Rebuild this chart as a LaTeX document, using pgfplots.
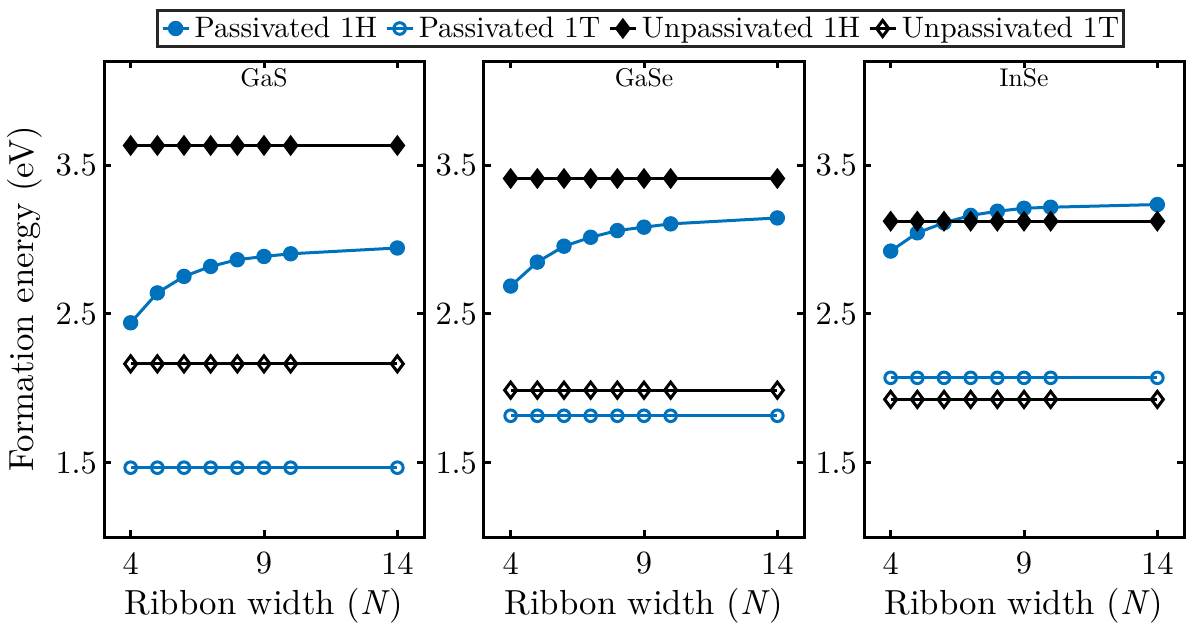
\documentclass[border=0pt]{standalone}
\usepackage{pgfplots}
\pgfplotsset{compat=1.18}
\DeclareFontFamily{TU}{lmrten}{}
\DeclareFontShape{TU}{lmrten}{m}{n}{<-> \UnicodeFontFile{lmroman10-regular}{\UnicodeFontTeXLigatures}}{}
\DeclareFontShape{TU}{lmrten}{m}{it}{<-> \UnicodeFontFile{lmroman10-italic}{\UnicodeFontTeXLigatures}}{}
\renewcommand\rmdefault{lmrten}
\definecolor{mblue}{RGB}{0,114,189}
\definecolor{framegray}{RGB}{38,38,38}
\pgfplotsset{
  panel/.style={
    scale only axis, width=160pt, height=238pt,
    xmin=3, xmax=15, ymin=1, ymax=4.2,
    xtick={4,9,14}, ytick={1.5,2.5,3.5},
    /pgf/number format/assume math mode=true,
    tick align=inside, major tick length=3.5pt,
    axis line style={line width=1.5pt},
    every tick/.style={line width=1.5pt, black},
    tick label style={font=\fontsize{16.2}{19}\selectfont},
    xticklabel style={yshift=-4pt},
    xlabel={Ribbon width (\textit{N})},
    label style={font=\fontsize{17.4}{20}\selectfont},
    title style={font=\fontsize{12.8}{15}\selectfont, at={(0.5,1)}, anchor=base, yshift=-18.8pt},
    clip=false,
    legend image code/.code={\draw[mark repeat=2,mark phase=2] plot coordinates {(0pt,0pt) (6.5pt,0pt) (13pt,0pt)};},
  },
  p1h/.style={color=mblue, line width=1.5pt, mark=*, mark size=3.6pt, mark options={solid, fill=mblue, line width=0.5pt}},
  p1t/.style={color=mblue, line width=1.5pt, mark=o, mark size=2.9pt, mark options={solid, line width=1.5pt}},
  u1h/.style={color=black, line width=1.5pt, mark=diamond*, mark size=4.5pt, mark options={solid, fill=black, line width=1pt}},
  u1t/.style={color=black, line width=1.5pt, mark=diamond, mark size=4pt, mark options={solid, fill=white, line width=1.5pt}},
}
\begin{document}
\begin{tikzpicture}
\useasboundingbox (-52pt,-48pt) rectangle (542.5pt,268.5pt);
% ---------- GaS ----------
\begin{axis}[panel, at={(0pt,0pt)}, anchor=south west, title={GaS},
  ylabel={Formation energy (eV)}]
\addplot[p1h] coordinates {(4,2.44)(5,2.641)(6,2.752)(7,2.819)(8,2.864)(9,2.886)(10,2.904)(14,2.943)};
\addplot[p1t] coordinates {(4,1.466)(5,1.466)(6,1.466)(7,1.466)(8,1.466)(9,1.466)(10,1.466)(14,1.466)};
\addplot[u1h] coordinates {(4,3.632)(5,3.632)(6,3.632)(7,3.632)(8,3.632)(9,3.632)(10,3.632)(14,3.632)};
\addplot[u1t] coordinates {(4,2.164)(5,2.164)(6,2.164)(7,2.164)(8,2.164)(9,2.164)(10,2.164)(14,2.164)};
\end{axis}
% ---------- GaSe ----------
\begin{axis}[panel, at={(190pt,0pt)}, anchor=south west, title={GaSe},
  legend columns=4,
  legend style={at={(0.488,1.0683)}, anchor=center, draw=framegray, line width=1.5pt,
    font=\fontsize{14.8}{17}\selectfont, inner xsep=2pt, inner ysep=3pt,
    nodes={inner sep=0pt},
    /tikz/every odd column/.append style={column sep=2.3pt},
    /tikz/every even column/.append style={column sep=4pt}},
  legend cell align=left]
\addplot[p1h] coordinates {(4,2.687)(5,2.848)(6,2.955)(7,3.015)(8,3.06)(9,3.083)(10,3.105)(14,3.145)};
\addlegendentry{Passivated 1H}
\addplot[p1t] coordinates {(4,1.815)(5,1.815)(6,1.815)(7,1.815)(8,1.815)(9,1.815)(10,1.815)(14,1.815)};
\addlegendentry{Passivated 1T}
\addplot[u1h] coordinates {(4,3.41)(5,3.41)(6,3.41)(7,3.41)(8,3.41)(9,3.41)(10,3.41)(14,3.41)};
\addlegendentry{Unpassivated 1H}
\addplot[u1t] coordinates {(4,1.987)(5,1.987)(6,1.987)(7,1.987)(8,1.987)(9,1.987)(10,1.987)(14,1.987)};
\addlegendentry{Unpassivated 1T}
\end{axis}
% ---------- InSe ----------
\begin{axis}[panel, at={(380pt,0pt)}, anchor=south west, title={InSe}]
\addplot[p1h] coordinates {(4,2.922)(5,3.045)(6,3.112)(7,3.162)(8,3.19)(9,3.21)(10,3.217)(14,3.235)};
\addplot[p1t] coordinates {(4,2.07)(5,2.07)(6,2.07)(7,2.07)(8,2.07)(9,2.07)(10,2.07)(14,2.07)};
\addplot[u1h] coordinates {(4,3.123)(5,3.123)(6,3.123)(7,3.123)(8,3.123)(9,3.123)(10,3.123)(14,3.123)};
\addplot[u1t] coordinates {(4,1.925)(5,1.925)(6,1.925)(7,1.925)(8,1.925)(9,1.925)(10,1.925)(14,1.925)};
\end{axis}
\end{tikzpicture}
\end{document}
